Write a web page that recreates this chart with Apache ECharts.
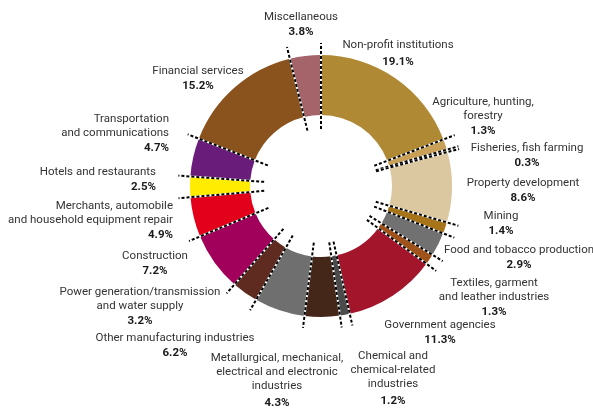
<!DOCTYPE html>
<html>
<head>
<meta charset="utf-8">
<script src="https://cdn.jsdelivr.net/npm/echarts@6/dist/echarts.min.js"></script>
<style>
  html, body { margin: 0; padding: 0; background: #fff; }
  #chart { width: 593px; height: 408px; }
</style>
</head>
<body>
<div id="chart"></div>
<script>
// sectors, clockwise from 12 o'clock
const categories = [
  'Non-profit institutions',
  'Agriculture, hunting,\nforestry',
  'Fisheries, fish farming',
  'Property development',
  'Mining',
  'Food and tobacco production',
  'Textiles, garment\nand leather industries',
  'Government agencies',
  'Chemical and\nchemical-related\nindustries',
  'Metallurgical, mechanical,\nelectrical and electronic\nindustries',
  'Other manufacturing industries',
  'Power generation/transmission\nand water supply',
  'Construction',
  'Merchants, automobile\nand household equipment repair',
  'Hotels and restaurants',
  'Transportation\nand communications',
  'Financial services',
  'Miscellaneous'
];
const shares = [19.1, 1.3, 0.3, 8.6, 1.4, 2.9, 1.3, 11.3, 1.2, 4.3, 6.2, 3.2, 7.2, 4.9, 2.5, 4.7, 15.2, 3.8];
const colors = [
  '#b08935', '#c9a058', '#cfae70', '#dcc8a0', '#a8741a', '#717171',
  '#a0521b', '#a3152b', '#4b4b4b', '#45271a', '#6f6f6f', '#5f2b20',
  '#a1005b', '#e2001a', '#ffec00', '#6a1c7a', '#8a531e', '#a5636a'
];

// label anchors: [x, y of first line, align, extra gap before %]
const labelPos = [
  [398, 45, 'center', 1], [483, 102, 'center', 0], [527, 148, 'center', 0],
  [523, 183, 'center', 0], [501, 216, 'center', 0], [519, 250, 'center', 0],
  [494, 283, 'center', 0], [440, 325, 'center', 0], [393, 356, 'center', 1],
  [277, 358, 'center', 1], [175, 338, 'center', 0], [140, 292, 'center', 0],
  [155, 256, 'center', 0], [173, 206, 'right', 0], [156, 172, 'right', 0],
  [169, 119, 'right', 0], [198, 71, 'center', 0], [301, 17, 'center', 0]
];

const total = shares.reduce((a, b) => a + b, 0);
let acc = 0;
const bounds = shares.map(v => { const s = acc; acc += v; return [0, s]; });

const cx = 321, cy = 186;

const chart = echarts.init(document.getElementById('chart'));
chart.setOption({
  animation: false,
  polar: { center: [cx, cy], radius: 150 },
  angleAxis: { type: 'value', min: 0, max: total, startAngle: 90, clockwise: true, show: false },
  radiusAxis: { type: 'value', min: 0, max: 150, show: false },
  series: [
    {
      type: 'pie',
      center: [cx, cy],
      radius: [71, 131],
      startAngle: 90,
      clockwise: true,
      silent: true,
      avoidLabelOverlap: false,
      data: categories.map((n, i) => ({
        name: n,
        value: shares[i],
        itemStyle: { color: colors[i] }
      })),
      label: {
        show: true,
        position: 'outside',
        formatter: p => {
          const lines = p.name.split('\n').map(l => '{n|' + l + '}');
          const gap = labelPos[p.dataIndex][3] ? 'q' : 'p';
          return lines.join('\n') + '\n{' + gap + '|' + shares[p.dataIndex].toFixed(1) + '%}';
        },
        rich: {
          n: { fontFamily: 'Roboto', fontSize: 11.5, color: '#333', lineHeight: 14 },
          p: { fontFamily: 'Roboto', fontSize: 11.5, fontWeight: 'bold', color: '#1a1a1a', lineHeight: 16 },
          q: { fontFamily: 'Roboto', fontSize: 11.5, fontWeight: 'bold', color: '#1a1a1a', lineHeight: 20 }
        }
      },
      labelLine: { show: false },
      labelLayout: params => {
        const lp = labelPos[params.dataIndex];
        return { x: lp[0], y: lp[1] - 7, align: lp[2], verticalAlign: 'top' };
      },
      emphasis: { disabled: true }
    },
    {
      type: 'custom',
      coordinateSystem: 'polar',
      silent: true,
      z: 5,
      data: bounds,
      renderItem: (params, api) => {
        const a = api.value(1);
        const p1 = api.coord([57, a]);
        const p2 = api.coord([143, a]);
        const shape = { x1: p1[0], y1: p1[1], x2: p2[0], y2: p2[1] };
        return {
          type: 'group',
          children: [
            { type: 'line', shape: shape, style: { stroke: '#fff', lineWidth: 2 } },
            { type: 'line', shape: shape, style: { stroke: '#000', lineWidth: 2, lineDash: [3, 2] } }
          ]
        };
      }
    }
  ]
});
</script>
</body>
</html>
